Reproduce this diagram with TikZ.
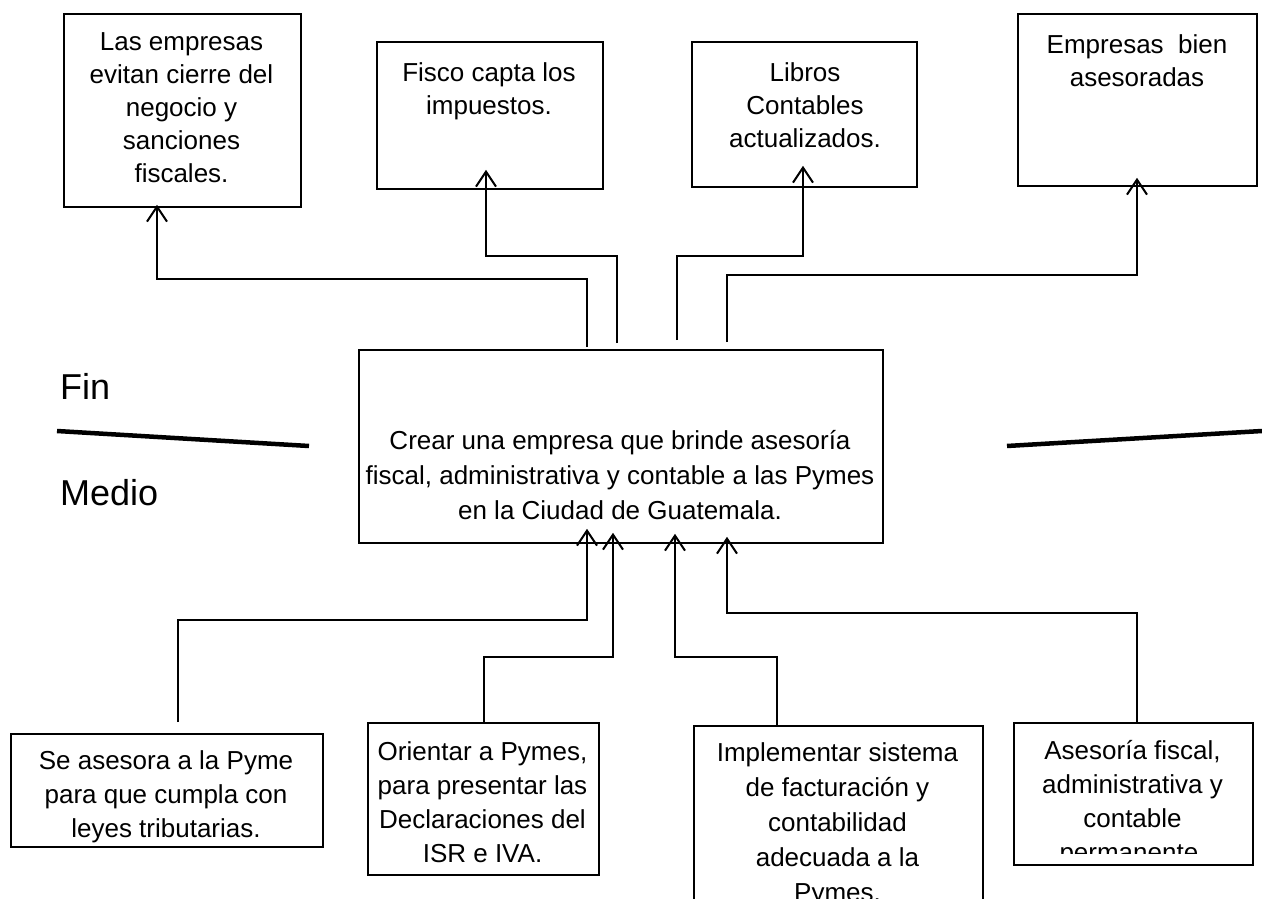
\documentclass[tikz,border=0pt]{standalone}
\usepackage{fontspec}
\setmainfont{Liberation Sans}
\usetikzlibrary{arrows.meta}
\begin{document}
\begin{tikzpicture}[x=1pt,y=-1pt,
  box/.style={draw,line width=1.8pt,inner sep=0pt,anchor=north west},
  txt/.style={align=center,font=\fontsize{26}{33}\selectfont,inner sep=0pt,anchor=north},
  btxt/.style={align=center,font=\fontsize{26}{34}\selectfont,inner sep=0pt,anchor=north},
  ctxt/.style={align=center,font=\fontsize{26}{35}\selectfont,inner sep=0pt,anchor=north},
  lbl/.style={font=\fontsize{36}{40}\selectfont,inner sep=0pt,anchor=west},
  arr/.style={line width=2pt,-{Straight Barb[length=15pt,width=20pt,line width=2pt]}},
  sep/.style={line width=4.5pt}]
\useasboundingbox (0,0) rectangle (1262,899);
% top boxes
\node[box,minimum width=237pt,minimum height=193pt] (t1) at (63,13) {};
\node[txt] (t1t) at (181.5,32) {Las empresas\\evitan cierre del\\negocio y\\sanciones\\fiscales.};
\node[box,minimum width=226pt,minimum height=147pt] (t2) at (376,41) {};
\node[txt] (t2t) at (489,62) {Fisco capta los\\impuestos.};
\node[box,minimum width=225pt,minimum height=145pt] (t3) at (691,41) {};
\node[txt] (t3t) at (805,62) {Libros\\Contables\\actualizados.};
\node[box,minimum width=239pt,minimum height=172pt] (t4) at (1017,13) {};
\node[txt] (t4t) at (1137,34) {Empresas\ \ bien\\asesoradas};
% center box
\node[box,minimum width=524pt,minimum height=193pt] (c) at (358,349) {};
\node[ctxt] (ct) at (620,430) {Crear una empresa que brinde asesoría\\fiscal, administrativa y contable a las Pymes\\en la Ciudad de Guatemala.};
% labels
\node[lbl] (fin) at (60,386) {Fin};
\node[lbl] (medio) at (60,493) {Medio};
\coordinate (l1) at (57,431); \coordinate (l2) at (309,446);
\coordinate (r1) at (1007,446); \coordinate (r2) at (1262,431);
\draw[sep] (l1) -- (l2);
\draw[sep] (r1) -- (r2);
% bottom boxes
\node[box,minimum width=312pt,minimum height=113pt] (b1) at (10,733) {};
\node[btxt] (b1t) at (166,750) {Se asesora a la Pyme\\para que cumpla con\\leyes tributarias.};
\node[box,minimum width=231pt,minimum height=152pt] (b2) at (367,722) {};
\node[btxt] (b2t) at (482.5,741) {Orientar a Pymes,\\para presentar las\\Declaraciones del\\ISR e IVA.};
\node[box,minimum width=289pt,minimum height=200pt] (b3) at (693,725) {};
\node[ctxt] (b3t) at (837.5,742) {Implementar sistema\\de facturación y\\contabilidad\\adecuada a la\\Pymes.};
\node[box,minimum width=239pt,minimum height=142pt] (b4) at (1013,722) {};
\begin{scope}
\clip (1014,723) rectangle (1251,853);
\node[btxt] (b4t) at (1132.5,740) {Asesoría fiscal,\\administrativa y\\contable\\permanente.};
\end{scope}
% top connectors
\coordinate (a1) at (587,347); \coordinate (a1b) at (587,279); \coordinate (a1c) at (157,279);
\draw[arr] (a1) -- (a1b) -- (a1c) -- ([yshift=3pt]t1.south -| a1c);
\coordinate (a2) at (617,343); \coordinate (a2b) at (617,256); \coordinate (a2c) at (486,256);
\draw[arr] (a2) -- (a2b) -- (a2c) -- ([yshift=20pt]t2.south -| a2c);
\coordinate (a3) at (677,340); \coordinate (a3b) at (677,256); \coordinate (a3c) at (803,256);
\draw[arr] (a3) -- (a3b) -- (a3c) -- ([yshift=22pt]t3.south -| a3c);
\coordinate (a4) at (727,342); \coordinate (a4b) at (727,275); \coordinate (a4c) at (1137,275);
\draw[arr] (a4) -- (a4b) -- (a4c) -- ([yshift=9pt]t4.south -| a4c);
% bottom connectors
\coordinate (d1) at (178,722); \coordinate (d1b) at (178,620); \coordinate (d1c) at (587,620);
\draw[arr] (d1) -- (d1b) -- (d1c) -- ([yshift=15pt]c.south -| d1c);
\coordinate (d2) at (484,722); \coordinate (d2b) at (484,657); \coordinate (d2c) at (613,657);
\draw[arr] (b2.north -| d2) -- (d2b) -- (d2c) -- ([yshift=11pt]c.south -| d2c);
\coordinate (d3) at (777,725); \coordinate (d3b) at (777,657); \coordinate (d3c) at (675,657);
\draw[arr] (b3.north -| d3) -- (d3b) -- (d3c) -- ([yshift=10pt]c.south -| d3c);
\coordinate (d4) at (1137,722); \coordinate (d4b) at (1137,613); \coordinate (d4c) at (727,613);
\draw[arr] (b4.north -| d4) -- (d4b) -- (d4c) -- ([yshift=7pt]c.south -| d4c);
\end{tikzpicture}
\end{document}
